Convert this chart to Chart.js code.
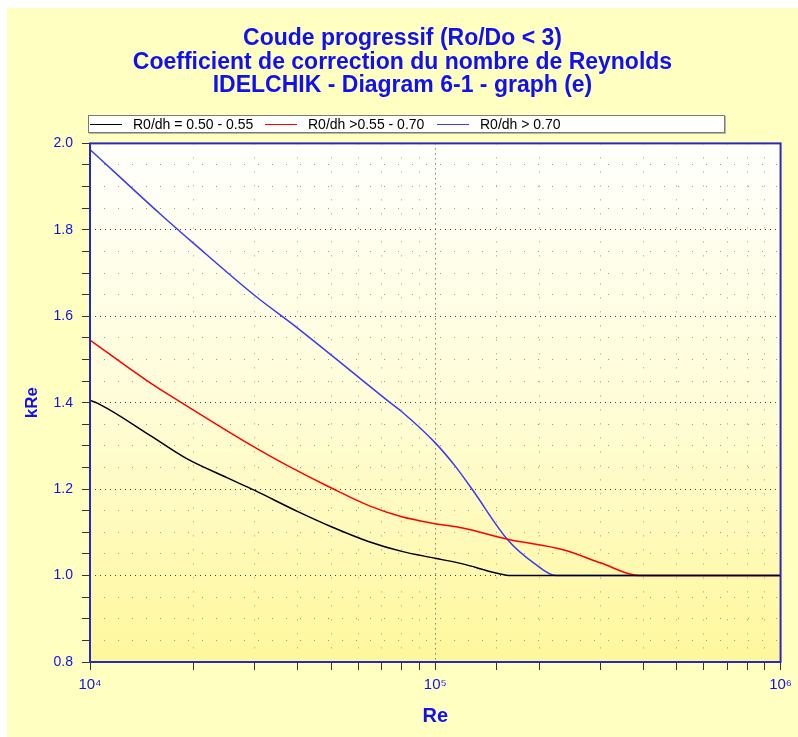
<!DOCTYPE html>
<html>
<head>
<meta charset="utf-8">
<script src="https://cdn.jsdelivr.net/npm/chart.js@4.4.0/dist/chart.umd.min.js"></script>
<style>
  html, body { margin: 0; padding: 0; background: #fff; }
  #frame { position: absolute; left: 7px; top: 8px; width: 791px; height: 729px; background: #FFFFC2; }
  #chart { position: absolute; left: 0; top: 0; }
  #legend { position: absolute; left: 81px; top: 107px; width: 635px; height: 16px; background: #fff;
            border: 1px solid #7a7a7a; box-shadow: 1px 1px 0 #b8b8a0;
            font: 14px "Liberation Sans", Arial, sans-serif; color: #000; }
  .item { position: absolute; top: 0; height: 16px; line-height: 16px; white-space: nowrap; }
  .item i { position: absolute; left: 0; top: 8px; width: 32px; height: 1px; }
  .item span { position: absolute; left: 43px; top: 0; }
</style>
</head>
<body>
<div id="frame">
  <canvas id="chart" width="791" height="729"></canvas>
  <div id="legend"></div>
</div>
<script>
const blackRe = [1e4, 1.05e4, 1.5e4, 1.9e4, 2.5e4, 3e4, 4e4, 5e4, 6.4e4, 8e4, 1e5, 1.2e5, 1.5e5, 1.66e5, 1e6];
const blackK  = [1.405, 1.399, 1.323, 1.271, 1.226, 1.197, 1.148, 1.113, 1.079, 1.056, 1.040, 1.027, 1.006, 1.0, 1.0];

const redRe = [1e4, 1.45e4, 1.85e4, 2.95e4, 3.7e4, 5e4, 6.5e4, 8e4, 1e5, 1.2e5, 1.62e5, 2.36e5, 3.02e5, 3.9e5, 1e6];
const redK  = [1.545, 1.453, 1.399, 1.300, 1.256, 1.2025, 1.160, 1.136, 1.120, 1.110, 1.084, 1.059, 1.029, 1.0, 1.0];

const blueRe = [1e4, 1.6e4, 2e4, 3e4, 4e4, 5e4, 7.4e4, 8e4, 1e5, 1.145e5, 1.28e5, 1.62e5, 1.93e5, 2.24e5, 1e6];
const blueK  = [1.986, 1.836, 1.768, 1.648, 1.572, 1.510, 1.400, 1.379, 1.307, 1.252, 1.199, 1.083, 1.029, 1.0, 1.0];

const seriesLabels = ['R0/dh = 0.50 - 0.55', 'R0/dh >0.55 - 0.70', 'R0/dh > 0.70'];
const seriesColors = ['#000000', '#FF0000', '#3b3bf2'];
const legendLeft = [1, 176, 348];

const titleLines = ['Coude progressif (Ro/Do < 3)', 'Coefficient de correction du nombre de Reynolds', 'IDELCHIK - Diagram 6-1 - graph (e)'];
const xMin = 1e4, xMax = 1e6;
const yMin = 0.8, yMax = 2.0, yStep = 0.05;
const supDigits = { '4': '\u2074', '5': '\u2075', '6': '\u2076' };

const blue = '#1010f0';
const fontFam = '"Liberation Sans", Arial, sans-serif';

function pts(xs, ys) {
  return xs.map((x, i) => ({ x: x, y: ys[i] }));
}

function isDecade(v) {
  const l = Math.log10(v);
  return Math.abs(l - Math.round(l)) < 1e-9;
}
function isMajorY(v) {
  return Math.abs(v * 5 - Math.round(v * 5)) < 1e-6;
}

const plotBg = {
  id: 'plotBg',
  beforeDraw(chart) {
    const { ctx, chartArea: a } = chart;
    const g = ctx.createLinearGradient(0, a.top, 0, a.bottom);
    g.addColorStop(0, '#FFFFFC');
    g.addColorStop(0.5, '#FFFDD8');
    g.addColorStop(1, '#FFF79C');
    ctx.save();
    ctx.fillStyle = g;
    ctx.fillRect(a.left, a.top, a.right - a.left, a.bottom - a.top);
    ctx.restore();
  },
  afterDatasetsDraw(chart) {
    const { ctx, chartArea: a } = chart;
    ctx.save();
    ctx.strokeStyle = '#2a2ab8';
    ctx.lineWidth = 2;
    ctx.strokeRect(a.left, a.top, a.right - a.left, a.bottom - a.top);
    ctx.restore();
  }
};

const chart = new Chart(document.getElementById('chart'), {
  type: 'line',
  data: {
    datasets: [
      { label: seriesLabels[0], data: pts(blackRe, blackK), borderColor: seriesColors[0] },
      { label: seriesLabels[1], data: pts(redRe, redK), borderColor: seriesColors[1] },
      { label: seriesLabels[2], data: pts(blueRe, blueK), borderColor: seriesColors[2] }
    ]
  },
  options: {
    responsive: false,
    animation: false,
    layout: { padding: 0 },
    elements: {
      line: { borderWidth: 1.5, cubicInterpolationMode: 'monotone', fill: false },
      point: { radius: 0, hoverRadius: 0 }
    },
    plugins: {
      legend: { display: false },
      tooltip: { enabled: false },
      title: {
        display: true,
        text: titleLines,
        color: blue,
        font: { family: fontFam, size: 23, weight: 'bold', lineHeight: 1.02 },
        padding: { top: 19, bottom: 46 }
      }
    },
    scales: {
      x: {
        type: 'logarithmic',
        min: xMin,
        max: xMax,
        afterFit: s => { s.height = 75; },
        border: {
          display: false,
          dash: ctx => isDecade(ctx.tick.value) ? [1, 4] : [1, 13]
        },
        grid: {
          color: ctx => isDecade(ctx.tick.value) ? '#444' : '#9a9a8a',
          tickColor: '#333',
          tickBorderDash: [],
          tickLength: 8,
          lineWidth: 1
        },
        ticks: {
          autoSkip: false,
          maxRotation: 0,
          color: blue,
          padding: 6,
          font: { family: fontFam, size: 15 },
          callback: v => {
            if (!isDecade(v)) return '';
            const e = String(Math.round(Math.log10(v)));
            return '10' + e.split('').map(d => supDigits[d] || d).join('');
          }
        },
        title: {
          display: true,
          text: 'Re',
          color: blue,
          font: { family: fontFam, size: 20, weight: 'bold' },
          padding: { top: 9, bottom: 9 }
        }
      },
      y: {
        type: 'linear',
        min: yMin,
        max: yMax,
        afterFit: s => { s.width = 83; },
        border: {
          display: false,
          dash: ctx => isMajorY(ctx.tick.value) ? [1, 4] : [1, 13]
        },
        grid: {
          color: ctx => isMajorY(ctx.tick.value) ? '#444' : '#9a9a8a',
          tickColor: '#333',
          tickBorderDash: [],
          tickLength: 8,
          lineWidth: 1
        },
        ticks: {
          stepSize: yStep,
          autoSkip: false,
          color: blue,
          padding: 9,
          font: { family: fontFam, size: 14 },
          callback: v => isMajorY(v) ? v.toFixed(1) : ''
        },
        title: {
          display: true,
          text: 'kRe',
          color: blue,
          font: { family: fontFam, size: 17, weight: 'bold' },
          padding: { top: 15, bottom: 15 }
        }
      }
    }
  },
  plugins: [plotBg]
});

// légende HTML construite à partir des séries
const legendEl = document.getElementById('legend');
chart.data.datasets.forEach((ds, i) => {
  const item = document.createElement('div');
  item.className = 'item';
  item.style.left = legendLeft[i] + 'px';
  const line = document.createElement('i');
  line.style.background = ds.borderColor;
  const txt = document.createElement('span');
  txt.textContent = ds.label;
  item.appendChild(line);
  item.appendChild(txt);
  legendEl.appendChild(item);
});
</script>
</body>
</html>
